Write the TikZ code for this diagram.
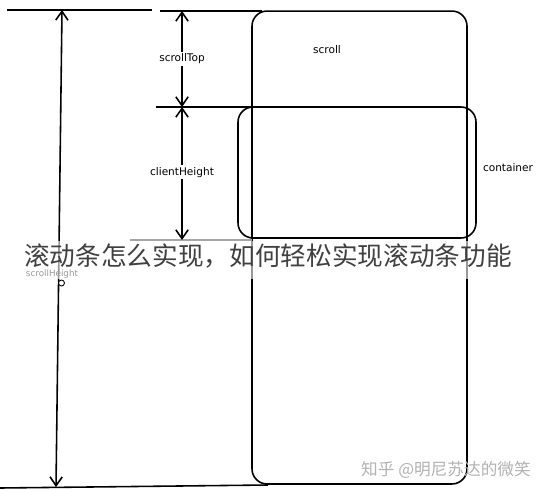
\documentclass[tikz,border=0pt]{standalone}
\usepackage{fontspec}
\newfontfamily\cjkfont{Noto Sans CJK SC}
\newfontfamily\handfont{DejaVu Sans}
\usetikzlibrary{arrows.meta}

\begin{document}
\begin{tikzpicture}[x=0.02cm, y=-0.02cm, line width=0.9pt,
  box/.style={draw, rounded corners=0.3cm, inner sep=0pt},
  dim/.style={{Straight Barb[length=5pt,width=7pt]}-{Straight Barb[length=5pt,width=7pt]}},
  lbl/.style={font=\handfont\fontsize{6}{7}\selectfont, fill=white, inner sep=1pt}]
  \useasboundingbox (0,0) rectangle (537,490);
  % the two boxes
  \node[box, minimum width=4.3cm, minimum height=9.46cm] (scroll) at (359.5,247.5) {};
  \node[box, minimum width=4.76cm, minimum height=2.62cm] (container) at (357,172.5) {};
  \node[lbl] (scroll-l) at (327,50) {scroll};
  \node[lbl] (cont-l) at (508,168) {container};
  % guide lines
  \coordinate (t1) at (7,10);
  \coordinate (t2) at (152,10);
  \coordinate (t3) at (160,11);
  \coordinate (t4) at (262,11);
  \coordinate (m1) at (156,107);
  \coordinate (b1) at (0,488);
  \coordinate (b2) at (268,485);
  \coordinate (c1) at (130,240);
  \coordinate (c2) at (252,240);
  \draw (t1) -- (t2);
  \draw (t3) -- (t4);
  \draw (m1) -- (scroll.west |- m1);
  \draw (b1) -- (b2);
  \draw[gray!70] (c1) -- (c2);
  % dimensions
  \coordinate (sh-top) at (62,10);
  \coordinate (sh-bot) at (56,487);
  \coordinate (st-top) at (182,11);
  \coordinate (st-bot) at (182,107);
  \coordinate (ch-bot) at (182,240);
  \draw[dim] (sh-top) -- (sh-bot);
  \draw[dim] (st-top) -- node[lbl] (st-l) {scrollTop} (st-bot);
  \draw[dim] (st-bot) -- node[lbl, pos=0.49] (ch-l) {clientHeight} (ch-bot);
  \node[lbl, fill=none, font=\handfont\fontsize{5}{6}\selectfont] (sh-l) at (52,274) {scrollHeight};
  \node[draw, circle, inner sep=1.2pt, line width=0.5pt, fill=white] (sh-dot) at (61.5,283) {};
  % title band
  \fill[white, opacity=0.6] (0,241) rectangle (537,279);
  \node[font=\cjkfont\fontsize{14.6}{16}\selectfont, text=black!75] (title) at (268,256)
    {滚动条怎么实现，如何轻松实现滚动条功能};
  \node[font=\cjkfont\fontsize{9.5}{11}\selectfont, text=gray!60] (wm) at (446,470)
    {知乎 @明尼苏达的微笑};
\end{tikzpicture}
\end{document}
